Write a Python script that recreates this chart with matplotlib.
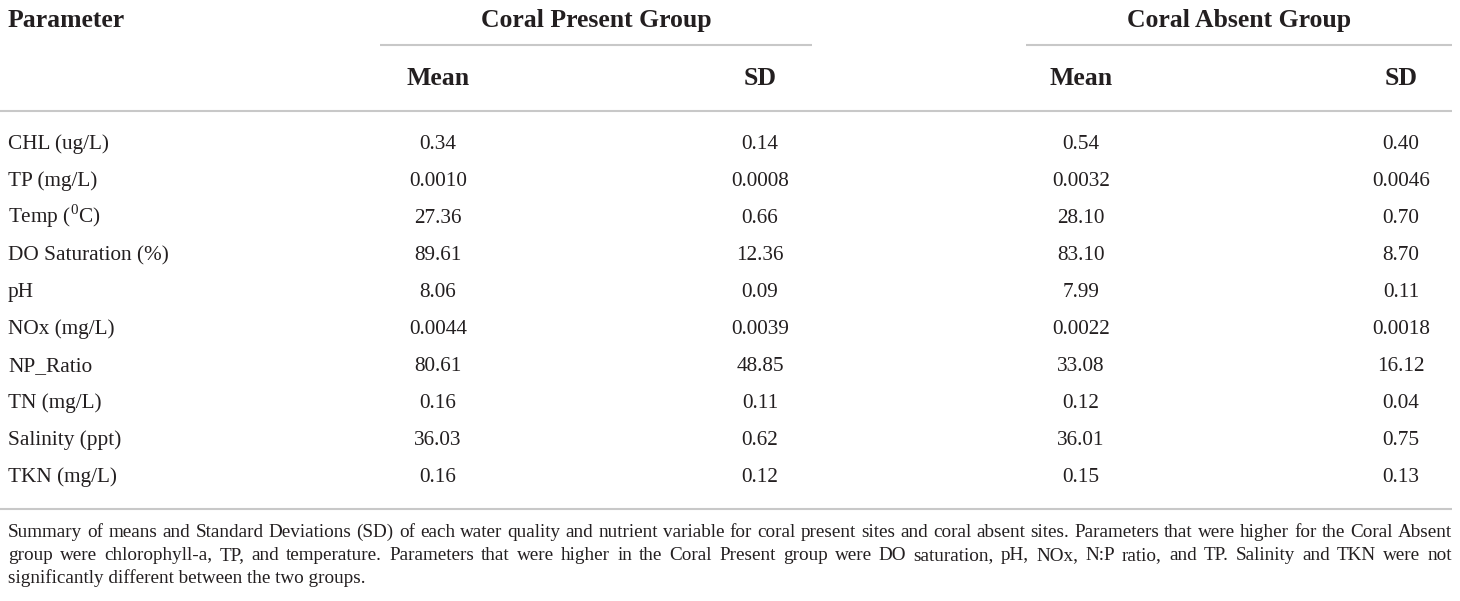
import matplotlib
matplotlib.use("Agg")
import matplotlib.pyplot as plt

plt.rcParams['font.family'] = ['Liberation Serif', 'DejaVu Serif']
plt.rcParams['mathtext.fontset'] = 'custom'
plt.rcParams['mathtext.rm'] = 'Liberation Serif'

# table contents
parameters = ['CHL (ug/L)', 'TP (mg/L)', r'Temp ($^{0}$C)', 'DO Saturation (%)', 'pH',
              'NOx (mg/L)', 'NP_Ratio', 'TN (mg/L)', 'Salinity (ppt)', 'TKN (mg/L)']
present_mean = ['0.34', '0.0010', '27.36', '89.61', '8.06', '0.0044', '80.61', '0.16', '36.03', '0.16']
present_sd = ['0.14', '0.0008', '0.66', '12.36', '0.09', '0.0039', '48.85', '0.11', '0.62', '0.12']
absent_mean = ['0.54', '0.0032', '28.10', '83.10', '7.99', '0.0022', '33.08', '0.12', '36.01', '0.15']
absent_sd = ['0.40', '0.0046', '0.70', '8.70', '0.11', '0.0018', '16.12', '0.04', '0.75', '0.13']
groups = ['Coral Present Group', 'Coral Absent Group']
subheads = ['Mean', 'SD']
caption = [
    'Summary of means and Standard Deviations (SD) of each water quality and nutrient variable for coral present sites and coral absent sites. Parameters that were higher for the Coral Absent',
    'group were chlorophyll-a, TP, and temperature. Parameters that were higher in the Coral Present group were DO saturation, pH, NOx, N:P ratio, and TP. Salinity and TKN were not',
    'significantly different between the two groups.',
]

W, H = 1460, 601
fig = plt.figure(figsize=(W / 100, H / 100), dpi=100)
ax = fig.add_axes([0, 0, 1, 1])
ax.set_xlim(0, W)
ax.set_ylim(H, 0)
ax.axis('off')

txt = '#231f20'
line_c = '#c8c8c8'
left, right = 8, 1452

# headers
ax.text(left, 27, 'Parameter', fontsize=18.5, fontweight='bold', va='baseline', ha='left', color=txt)
group_span = [(380, 812), (1026, 1452)]
col_x = [[438, 760], [1081, 1401]]
for g, (x0, x1), cols in zip(groups, group_span, col_x):
    ax.text((x0 + x1) / 2, 27, g, fontsize=18.5, fontweight='bold', va='baseline', ha='center', color=txt)
    ax.plot([x0, x1], [45, 45], color=line_c, lw=1.5, solid_capstyle='butt')
    for s, cx in zip(subheads, cols):
        ax.text(cx, 85, s, fontsize=18.5, fontweight='bold', va='baseline', ha='center', color=txt)

ax.plot([0, right], [111, 111], color=line_c, lw=1.5, solid_capstyle='butt')
ax.plot([0, right], [509, 509], color=line_c, lw=1.5, solid_capstyle='butt')

# body rows
columns = [present_mean, present_sd, absent_mean, absent_sd]
xs = [col_x[0][0], col_x[0][1], col_x[1][0], col_x[1][1]]
for i, p in enumerate(parameters):
    y = 149 + i * 37
    ax.text(left, y, p, fontsize=15.3, va='baseline', ha='left', color=txt)
    for col, cx in zip(columns, xs):
        ax.text(cx, y, col[i], fontsize=15.3, va='baseline', ha='center', color=txt)

# caption, justified except the last line
renderer = fig.canvas.get_renderer()
for j, line in enumerate(caption):
    y = 537 + j * 23
    words = line.split(' ')
    if j == len(caption) - 1:
        ax.text(left, y, line, fontsize=13.8, va='baseline', ha='left', color=txt)
        continue
    items = [ax.text(0, y, w, fontsize=13.8, va='baseline', ha='left', color=txt) for w in words]
    widths = [t.get_window_extent(renderer).width for t in items]
    gap = (right - left - sum(widths)) / (len(words) - 1)
    x = left
    for t, w in zip(items, widths):
        t.set_x(x)
        x += w + gap

fig.savefig('out.png', dpi=100)
